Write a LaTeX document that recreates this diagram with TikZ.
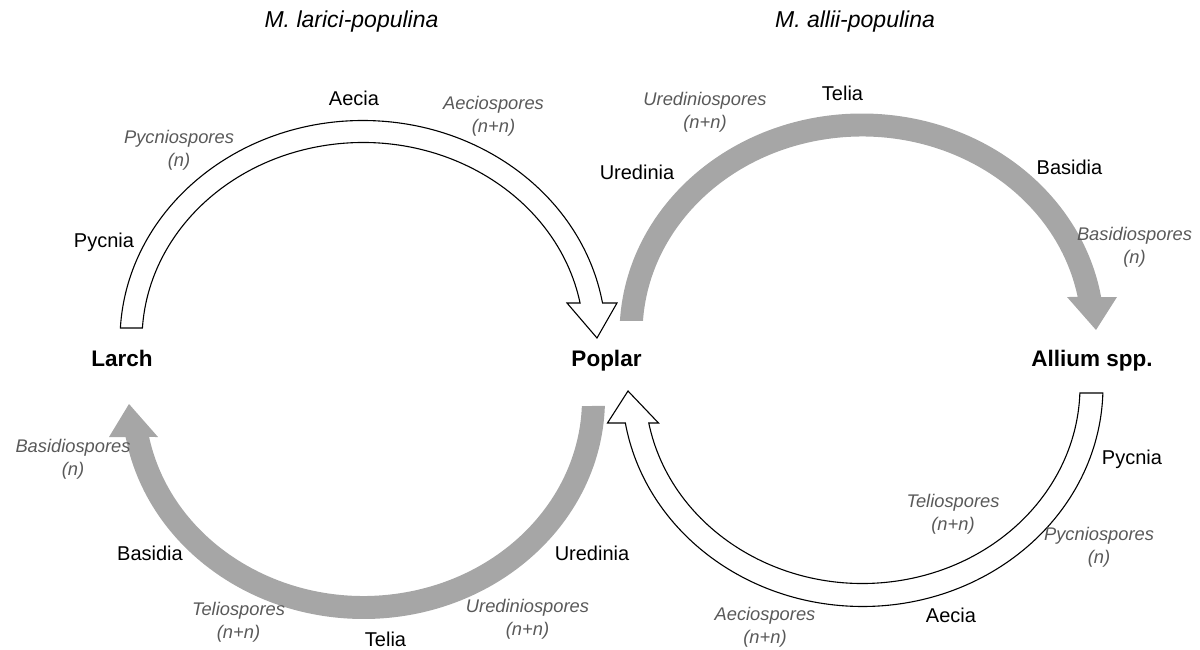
\documentclass[tikz,border=0pt]{standalone}
\usepackage{fontspec}
\setmainfont{Liberation Sans}
\definecolor{arrowgray}{HTML}{A6A6A6}
\definecolor{spgray}{HTML}{595959}
\begin{document}
\begin{tikzpicture}[x=1pt,y=-1pt,
  lab/.style={font=\fontsize{20}{24}\selectfont, inner sep=0pt},
  spore/.style={font=\fontsize{18.3}{23}\selectfont\itshape, text=spgray, align=center, inner sep=0pt},
  host/.style={font=\fontsize{22.5}{27}\selectfont\bfseries, inner sep=0pt, anchor=base},
  ttl/.style={font=\fontsize{23}{27}\selectfont\itshape, inner sep=0pt},
  openarrow/.style={draw=black, line width=1.1pt, fill=white, line join=miter},
  greyarrow/.style={fill=arrowgray, draw=none}]
\useasboundingbox (0,0) rectangle (1200,650);

% ---------- arrows ----------
% top-left (white): Larch -> Poplar
\draw[openarrow] ([shift={(363,340)}]183.13:243 and 219.5)
  arc[start angle=183.13, end angle=350.30, x radius=243, y radius=219.5]
  -- (617,303) -- (597,338) -- (567,303)
  -- ([shift={(363,340)}]349.20:221 and 197.5)
  arc[start angle=349.20, end angle=183.48, x radius=221, y radius=197.5] -- cycle;
% top-right (grey): Poplar -> Allium
\fill[greyarrow] ([shift={(862,333.5)}]183.26:242.5 and 220)
  arc[start angle=183.26, end angle=350.45, x radius=242.5, y radius=220]
  -- (1117,297) -- (1096,330) -- (1067,297)
  -- ([shift={(862,333.5)}]349.32:219.5 and 197)
  arc[start angle=349.32, end angle=183.64, x radius=219.5, y radius=197] -- cycle;
% bottom-left (grey): Poplar -> Larch
\fill[greyarrow] ([shift={(363.5,399)}]1.82:241.5 and 220)
  arc[start angle=1.82, end angle=170.05, x radius=241.5, y radius=220]
  -- (109,437) -- (129,404) -- (158,437)
  -- ([shift={(363.5,399)}]168.88:218.5 and 197)
  arc[start angle=168.88, end angle=2.04, x radius=218.5, y radius=197] -- cycle;
% bottom-right (white): Allium -> Poplar
\draw[openarrow] ([shift={(862.5,386.5)}]1.69:240.5 and 220)
  arc[start angle=1.69, end angle=170.45, x radius=240.5, y radius=220]
  -- (607.5,423) -- (628,391) -- (658.5,423)
  -- ([shift={(862.5,386.5)}]169.32:217.5 and 197)
  arc[start angle=169.32, end angle=1.89, x radius=217.5, y radius=197] -- cycle;

% ---------- titles ----------
\node[ttl] (ttlA) at (351.5,22) {M. larici-populina};
\node[ttl] (ttlB) at (855,22) {M. allii-populina};

% ---------- hosts ----------
\node[host] (larch) at (122,366) {Larch};
\node[host] (poplar) at (606.5,366) {Poplar};
\node[host] (allium) at (1092,366) {Allium spp.};

% ---------- top-left labels ----------
\node[lab] (aeciaA) at (354,98) {Aecia};
\node[spore] (aecspA) at (493.5,116.5) {Aeciospores\\(n+n)};
\node[spore] (pycspA) at (179,150) {Pycniospores\\(n)};
\node[lab] (pycniaA) at (104,242) {Pycnia};

% ---------- top-right labels ----------
\node[lab] (teliaB) at (842.5,93) {Telia};
\node[spore] (uredspB) at (705,112) {Urediniospores\\(n+n)};
\node[lab] (urediniaB) at (637,172.5) {Uredinia};
\node[lab] (basidiaB) at (1069.5,167) {Basidia};
\node[spore] (basspB) at (1134.5,247.5) {Basidiospores\\(n)};

% ---------- bottom-left labels ----------
\node[spore] (basspC) at (73,459) {Basidiospores\\(n)};
\node[lab] (basidiaC) at (150,553) {Basidia};
\node[lab] (urediniaC) at (592,553) {Uredinia};
\node[spore] (telspC) at (238.5,622) {Teliospores\\(n+n)};
\node[lab] (teliaC) at (385.5,639) {Telia};
\node[spore] (uredspC) at (527.5,619.5) {Urediniospores\\(n+n)};

% ---------- bottom-right labels ----------
\node[lab] (pycniaD) at (1132,459) {Pycnia};
\node[spore] (telspD) at (953,514.5) {Teliospores\\(n+n)};
\node[spore] (pycspD) at (1099,547) {Pycniospores\\(n)};
\node[lab] (aeciaD) at (951,615) {Aecia};
\node[spore] (aecspD) at (765,627) {Aeciospores\\(n+n)};
\end{tikzpicture}
\end{document}
